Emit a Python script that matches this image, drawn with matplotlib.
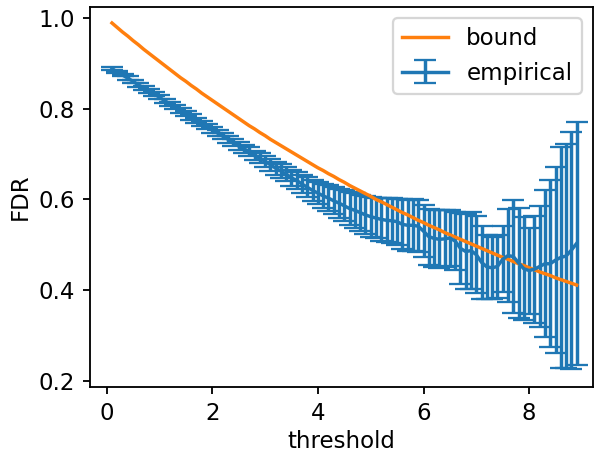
import matplotlib
matplotlib.use("Agg")
import matplotlib.pyplot as plt

# threshold grid
thresholds = [
    0.1, 0.2, 0.3, 0.4, 0.5, 0.6, 0.7, 0.8, 0.9, 1.0,
    1.1, 1.2, 1.3, 1.4, 1.5, 1.6, 1.7, 1.8, 1.9, 2.0,
    2.1, 2.2, 2.3, 2.4, 2.5, 2.6, 2.7, 2.8, 2.9, 3.0,
    3.1, 3.2, 3.3, 3.4, 3.5, 3.6, 3.7, 3.8, 3.9, 4.0,
    4.1, 4.2, 4.3, 4.4, 4.5, 4.6, 4.7, 4.8, 4.9, 5.0,
    5.1, 5.2, 5.3, 5.4, 5.5, 5.6, 5.7, 5.8, 5.9, 6.0,
    6.1, 6.2, 6.3, 6.4, 6.5, 6.6, 6.7, 6.8, 6.9, 7.0,
    7.1, 7.2, 7.3, 7.4, 7.5, 7.6, 7.7, 7.8, 7.9, 8.0,
    8.1, 8.2, 8.3, 8.4, 8.5, 8.6, 8.7, 8.8, 8.9,
]

# theoretical bound
bound = [
    0.990, 0.980, 0.970, 0.961, 0.951, 0.942, 0.932, 0.923, 0.914, 0.905,
    0.896, 0.887, 0.878, 0.869, 0.861, 0.852, 0.844, 0.835, 0.827, 0.819,
    0.811, 0.803, 0.795, 0.787, 0.779, 0.771, 0.763, 0.756, 0.748, 0.741,
    0.733, 0.726, 0.719, 0.712, 0.705, 0.698, 0.691, 0.684, 0.677, 0.670,
    0.664, 0.657, 0.651, 0.644, 0.638, 0.631, 0.625, 0.619, 0.613, 0.607,
    0.600, 0.595, 0.589, 0.583, 0.577, 0.571, 0.566, 0.560, 0.554, 0.549,
    0.543, 0.538, 0.533, 0.527, 0.522, 0.517, 0.512, 0.507, 0.502, 0.497,
    0.492, 0.487, 0.482, 0.477, 0.472, 0.468, 0.463, 0.458, 0.454, 0.449,
    0.445, 0.440, 0.436, 0.432, 0.427, 0.423, 0.419, 0.415, 0.411,
]

# empirical mean FDR
empirical = [
    0.889, 0.882, 0.875, 0.868, 0.861, 0.853, 0.847, 0.840, 0.833, 0.826,
    0.818, 0.811, 0.804, 0.797, 0.790, 0.782, 0.775, 0.768, 0.761, 0.754,
    0.747, 0.740, 0.733, 0.726, 0.718, 0.712, 0.705, 0.697, 0.691, 0.684,
    0.677, 0.669, 0.663, 0.656, 0.648, 0.642, 0.634, 0.627, 0.620, 0.614,
    0.608, 0.603, 0.597, 0.592, 0.586, 0.580, 0.576, 0.571, 0.566, 0.562,
    0.559, 0.556, 0.554, 0.553, 0.551, 0.545, 0.543, 0.543, 0.541, 0.530,
    0.518, 0.514, 0.512, 0.513, 0.515, 0.508, 0.492, 0.485, 0.487, 0.478,
    0.461, 0.451, 0.449, 0.452, 0.468, 0.476, 0.474, 0.460, 0.447, 0.443,
    0.446, 0.452, 0.458, 0.458, 0.466, 0.472, 0.475, 0.488, 0.503,
]

# error bar half-widths
spread = [
    0.003, 0.003, 0.003, 0.004, 0.004, 0.004, 0.004, 0.004, 0.005, 0.005,
    0.005, 0.005, 0.005, 0.005, 0.006, 0.006, 0.006, 0.006, 0.006, 0.007,
    0.007, 0.007, 0.008, 0.008, 0.009, 0.009, 0.010, 0.010, 0.011, 0.012,
    0.013, 0.014, 0.015, 0.016, 0.018, 0.019, 0.020, 0.022, 0.024, 0.025,
    0.026, 0.028, 0.030, 0.032, 0.034, 0.036, 0.038, 0.040, 0.042, 0.044,
    0.045, 0.047, 0.049, 0.050, 0.051, 0.055, 0.056, 0.057, 0.058, 0.058,
    0.062, 0.063, 0.064, 0.063, 0.062, 0.064, 0.078, 0.083, 0.085, 0.085,
    0.081, 0.070, 0.069, 0.070, 0.073, 0.103, 0.124, 0.122, 0.114, 0.095,
    0.118, 0.134, 0.162, 0.184, 0.205, 0.244, 0.248, 0.262, 0.268,
]

dpi = 165
fig = plt.figure(figsize=(595 / dpi, 455 / dpi), dpi=dpi)
ax = fig.add_axes([90 / 595, 67.7 / 455, 503 / 595, 380.6 / 455])

ax.errorbar(thresholds, empirical, yerr=spread, capsize=4.7, label="empirical")
ax.plot(thresholds, bound, label="bound")

ax.set_xlim(-0.316, 9.21)
ax.set_ylim(0.185, 1.026)
ax.set_xticks([0, 2, 4, 6, 8])
ax.set_yticks([0.2, 0.4, 0.6, 0.8, 1.0])
ax.tick_params(length=3.0)
ax.set_xlabel("threshold", labelpad=2)
ax.set_ylabel("FDR", labelpad=3)
ax.legend(loc="upper right")

fig.savefig("out.png", dpi=dpi)
